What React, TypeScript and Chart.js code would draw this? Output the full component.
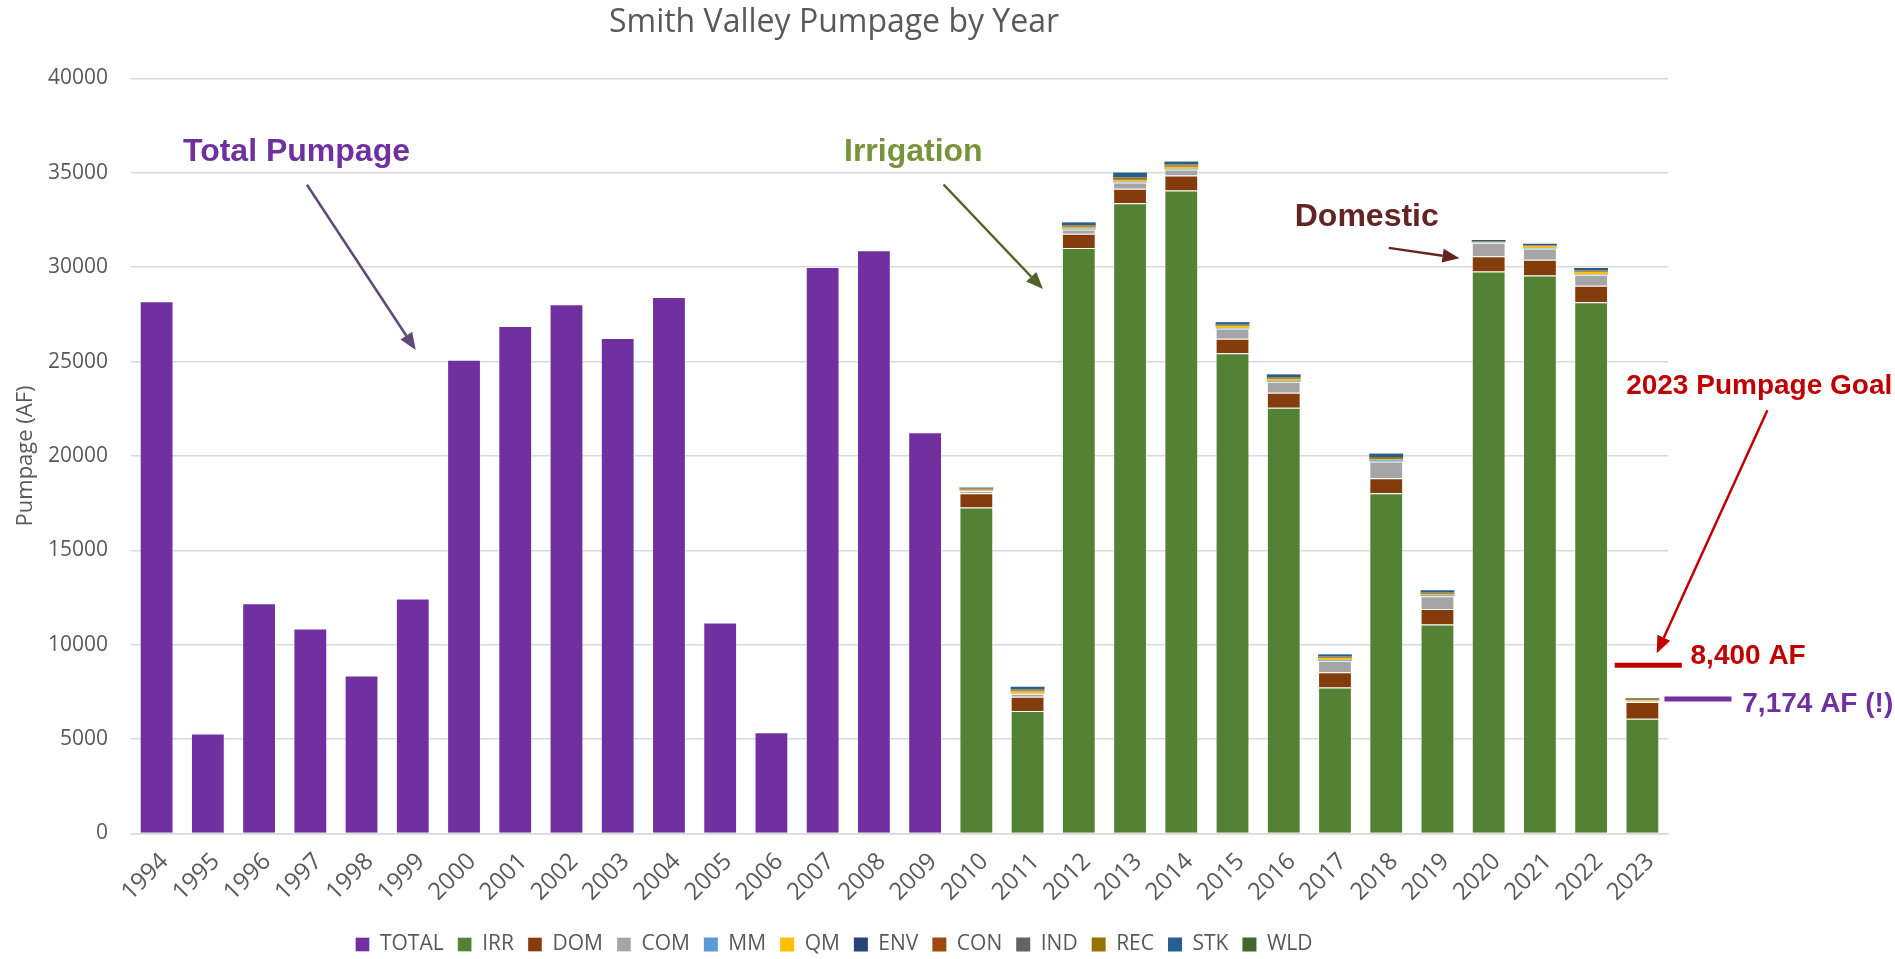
import React, { useEffect, useRef } from "react";
import { Chart, registerables } from "chart.js";

Chart.register(...registerables);

const TITLE = "Smith Valley Pumpage by Year";
const Y_TITLE = "Pumpage (AF)";
const YEARS = [
  "1994", "1995", "1996", "1997", "1998", "1999", "2000", "2001", "2002", "2003",
  "2004", "2005", "2006", "2007", "2008", "2009", "2010", "2011", "2012", "2013",
  "2014", "2015", "2016", "2017", "2018", "2019", "2020", "2021", "2022", "2023",
];

// Total pumpage 1994-2009 (before breakdown by use)
const TOTAL = [28200, 5300, 12200, 10860, 8370, 12450, 25100, 26880, 28030, 26250, 28420, 11180, 5360, 30010, 30900, 21260];

// Breakdown by use 2010-2023
const IRR = [17270, 6485, 31010, 33390, 34060, 25445, 22550, 7740, 18030, 11070, 29775, 29565, 28140, 6080];
const DOM = [750, 755, 760, 760, 790, 770, 795, 805, 785, 825, 810, 825, 880, 880];
const COM = [120, 160, 230, 330, 320, 530, 580, 600, 885, 670, 705, 600, 580, 70];
const MM = [20, 20, 30, 50, 50, 30, 40, 40, 70, 60, 20, 20, 20, 5];
const QM = [50, 100, 70, 70, 100, 100, 100, 100, 70, 50, 30, 105, 120, 40];
const ENV = [10, 20, 20, 20, 20, 20, 20, 20, 20, 20, 10, 10, 10, 5];
const CON = [10, 20, 20, 30, 30, 20, 20, 20, 20, 20, 10, 10, 10, 5];
const IND = [10, 10, 10, 20, 20, 10, 10, 10, 10, 10, 10, 10, 10, 5];
const REC = [40, 60, 60, 80, 50, 40, 50, 40, 50, 50, 20, 20, 55, 50];
const STK = [40, 140, 160, 250, 150, 120, 150, 110, 180, 105, 50, 70, 125, 29];
const WLD = [10, 10, 10, 10, 10, 10, 10, 5, 10, 10, 5, 5, 5, 5];

const SERIES_NAMES = ["TOTAL", "IRR", "DOM", "COM", "MM", "QM", "ENV", "CON", "IND", "REC", "STK", "WLD"];
const SERIES_COLORS = ["#7030A0", "#548235", "#843C0C", "#A5A5A5", "#5B9BD5", "#FFC000", "#264478", "#9E480E", "#636363", "#997300", "#255E91", "#43682B"];

// annotations in data units (x: category index, y: value)
const NOTE_TEXTS = [
  { text: "Total Pumpage", x: 2.73, y: 36080, color: "#7030A0", size: 32, align: "center" },
  { text: "Irrigation", x: 14.77, y: 36080, color: "#77933C", size: 32, align: "center" },
  { text: "Domestic", x: 23.62, y: 32645, color: "#632523", size: 32, align: "center" },
  { text: "2023 Pumpage Goal", x: 31.28, y: 23687, color: "#C00000", size: 28, align: "center" },
  { text: "8,400 AF", x: 29.94, y: 9397, color: "#C00000", size: 28, align: "left" },
  { text: "7,174 AF (!)", x: 30.95, y: 6855, color: "#7030A0", size: 28, align: "left" },
];
const NOTE_ARROWS = [
  { x1: 2.934, y1: 34363, x2: 5.057, y2: 25617, color: "#5F497A" },
  { x1: 15.36, y1: 34379, x2: 17.3, y2: 28840, color: "#4F6228" },
  { x1: 24.05, y1: 31023, x2: 25.43, y2: 30479, color: "#632523" },
  { x1: 31.44, y1: 22419, x2: 29.28, y2: 9550, color: "#C00000" },
];
const NOTE_LINES = [
  { x1: 28.46, x2: 29.77, y: 8917, color: "#C00000" },
  { x1: 29.43, x2: 30.74, y: 7119, color: "#7030A0" },
];

const FONT = "'Open Sans', 'DejaVu Sans', sans-serif";
const TEXT_COLOR = "#595959";

const notesPlugin = {
  id: "notes",
  afterLayout(chart: any) {
    if (chart.legend) {
      chart.legend.top += 6;
      chart.legend.bottom += 6;
    }
  },
  afterDatasetsDraw(chart: any) {
    const { ctx } = chart;
    const xs = chart.scales.x;
    const ys = chart.scales.y;
    const p0 = xs.getPixelForValue(0);
    const step = xs.getPixelForValue(1) - p0;
    const px = (i: number) => p0 + i * step;
    const py = (v: number) => ys.getPixelForValue(v);
    ctx.save();
    NOTE_LINES.forEach((l) => {
      ctx.strokeStyle = l.color;
      ctx.lineWidth = 5;
      ctx.beginPath();
      ctx.moveTo(px(l.x1), py(l.y));
      ctx.lineTo(px(l.x2), py(l.y));
      ctx.stroke();
    });
    NOTE_ARROWS.forEach((a) => {
      const x1 = px(a.x1), y1 = py(a.y1), x2 = px(a.x2), y2 = py(a.y2);
      const ang = Math.atan2(y2 - y1, x2 - x1);
      const head = 17;
      const half = 7;
      const bx = x2 - head * Math.cos(ang);
      const by = y2 - head * Math.sin(ang);
      ctx.strokeStyle = a.color;
      ctx.fillStyle = a.color;
      ctx.lineWidth = 2.5;
      ctx.beginPath();
      ctx.moveTo(x1, y1);
      ctx.lineTo(bx, by);
      ctx.stroke();
      ctx.beginPath();
      ctx.moveTo(x2, y2);
      ctx.lineTo(bx + half * Math.sin(ang), by - half * Math.cos(ang));
      ctx.lineTo(bx - half * Math.sin(ang), by + half * Math.cos(ang));
      ctx.closePath();
      ctx.fill();
    });
    NOTE_TEXTS.forEach((t) => {
      ctx.fillStyle = t.color;
      ctx.font = `bold ${t.size}px 'Liberation Sans', Arial, sans-serif`;
      ctx.textAlign = t.align as CanvasTextAlign;
      ctx.textBaseline = "middle";
      ctx.fillText(t.text, px(t.x), py(t.y));
    });
    ctx.restore();
  },
};

function padFront(arr: number[], n: number) {
  return [...Array(n).fill(null), ...arr];
}

export default function App() {
  const ref = useRef<HTMLCanvasElement | null>(null);
  useEffect(() => {
    document.body.style.margin = "0";
    const nBefore = TOTAL.length;
    const parts = [IRR, DOM, COM, MM, QM, ENV, CON, IND, REC, STK, WLD];
    const datasets: any[] = [
      { label: SERIES_NAMES[0], data: [...TOTAL, ...Array(IRR.length).fill(null)], backgroundColor: SERIES_COLORS[0] },
      ...parts.map((p, i) => ({
        label: SERIES_NAMES[i + 1],
        data: padFront(p, nBefore),
        backgroundColor: SERIES_COLORS[i + 1],
      })),
    ].map((d, i) => ({
      ...d,
      stack: "s",
      borderWidth: i < 4 ? 1 : 0,
      borderColor: "rgba(255,255,255,0.35)",
      barPercentage: 0.66,
      categoryPercentage: 1,
    }));

    const chart = new Chart(ref.current as HTMLCanvasElement, {
      type: "bar",
      data: { labels: YEARS, datasets },
      options: {
        responsive: false,
        animation: false,
        layout: { padding: { left: 0, right: 227, top: 0, bottom: 0 } },
        plugins: {
          title: {
            display: true,
            text: TITLE,
            color: TEXT_COLOR,
            font: { family: FONT, size: 32, weight: "normal" },
            padding: { top: 4, bottom: 36 },
          },
          legend: {
            position: "bottom",
            labels: {
              boxWidth: 14,
              boxHeight: 14,
              color: TEXT_COLOR,
              font: { family: FONT, size: 21 },
              padding: 14,
            },
          },
          tooltip: { enabled: false },
        },
        scales: {
          x: {
            stacked: true,
            grid: { display: false },
            border: { display: true, color: "#D9D9D9", width: 1.5 },
            ticks: {
              autoSkip: false,
              maxRotation: 45,
              minRotation: 45,
              color: TEXT_COLOR,
              font: { family: FONT, size: 24 },
              padding: 6,
              labelOffset: 8,
            },
            afterFit: (s: any) => {
              s.height = 80.5;
            },
          },
          y: {
            stacked: true,
            min: 0,
            max: 40000,
            ticks: {
              stepSize: 5000,
              color: TEXT_COLOR,
              font: { family: FONT, size: 21 },
              padding: 23,
              callback: (v: any) => String(v),
            },
            grid: { color: "#D9D9D9", lineWidth: 1.5, drawTicks: false },
            border: { display: false },
            title: {
              display: true,
              text: Y_TITLE,
              color: TEXT_COLOR,
              font: { family: FONT, size: 22 },
              padding: { top: 13, bottom: 0 },
            },
            afterFit: (s: any) => {
              s.width = 131;
            },
          },
        },
      } as any,
      plugins: [notesPlugin],
    });
    return () => chart.destroy();
  }, []);
  return <canvas ref={ref} width={1895} height={959} style={{ display: "block" }} />;
}
